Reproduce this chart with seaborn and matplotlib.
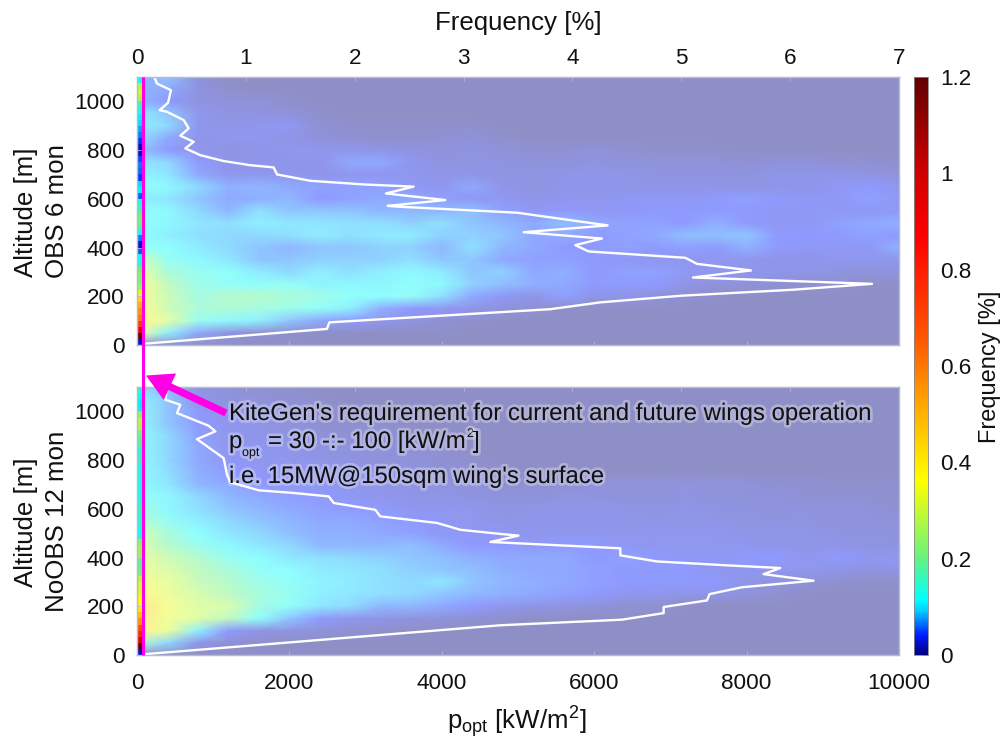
import numpy as np
import matplotlib
matplotlib.use("Agg")
import matplotlib.pyplot as plt
import matplotlib.patheffects as pe
from matplotlib.patches import FancyArrowPatch
from matplotlib.colors import LinearSegmentedColormap, Normalize
from matplotlib.cm import ScalarMappable
import seaborn as sns

sns.set_theme(style="white")
plt.rcParams['font.family'] = ['Liberation Sans', 'DejaVu Sans']
plt.rcParams['mathtext.fontset'] = 'custom'
plt.rcParams['mathtext.rm'] = 'Liberation Sans'
plt.rcParams['mathtext.it'] = 'Liberation Sans'

# ---- data -------------------------------------------------------------
# Frequency maps, in 1/1000 %, rows from 1100 m down to 0 m (50 m step),
# columns from 0 to 10000 kW/m2 (400 kW/m2 step).
power_nodes = [0, 400, 800, 1200, 1600, 2000, 2400, 2800, 3200, 3600, 4000, 4400, 4800,
               5200, 5600, 6000, 6400, 6800, 7200, 7600, 8000, 8400, 8800, 9200, 9600, 10000]
obs_map = [
 [50,70,15,0,0,0,0,0,0,0,0,0,0,0,0,0,0,0,0,0,0,0,0,0,0,0],
 [60,50,20,5,0,0,0,0,0,0,0,0,0,0,0,0,0,0,0,0,0,0,0,0,0,0],
 [60,40,20,15,15,5,0,0,0,0,0,0,0,0,0,0,0,0,0,0,0,0,0,0,0,0],
 [100,70,30,20,20,15,5,0,0,0,0,0,0,0,0,0,0,0,0,0,0,0,0,0,0,0],
 [100,80,30,25,30,35,10,5,5,5,5,5,0,0,0,0,0,0,0,0,0,0,0,0,0,0],
 [90,50,25,30,30,25,15,10,5,5,10,15,5,0,0,0,0,0,0,0,0,0,0,0,0,0],
 [70,40,30,20,25,30,30,30,25,20,15,20,15,10,10,15,10,5,5,5,0,0,0,0,0,0],
 [90,80,40,25,25,25,25,50,50,30,20,20,20,15,15,20,15,15,15,15,10,15,15,10,10,5],
 [110,90,50,30,30,30,25,30,30,30,25,25,20,20,25,25,25,20,20,20,20,25,25,25,20,15],
 [120,110,80,55,60,50,45,45,45,35,30,50,25,20,25,25,25,25,25,25,20,25,25,35,40,30],
 [100,90,70,50,55,60,40,45,50,50,45,35,35,25,30,30,35,35,35,40,45,40,35,35,45,35],
 [130,110,80,60,85,70,70,70,60,60,60,65,45,35,40,35,35,40,40,40,40,35,35,35,35,35],
 [120,110,90,85,100,90,90,85,85,75,85,70,60,50,65,50,45,45,40,55,40,35,35,45,50,55],
 [120,100,85,80,80,85,95,85,95,95,75,75,70,50,50,40,45,50,65,65,70,40,40,40,45,40],
 [130,115,95,80,70,60,70,70,75,75,60,85,60,50,40,40,45,40,45,40,55,40,35,35,35,55],
 [270,135,110,90,70,70,75,75,75,85,70,70,50,45,45,40,35,30,30,30,30,25,25,30,30,30],
 [330,170,140,120,95,80,100,85,100,110,95,70,75,50,55,40,45,45,35,30,30,25,25,20,15,20],
 [360,220,145,125,120,130,105,110,105,120,110,75,65,55,50,40,40,40,25,15,15,10,8,8,3,3],
 [370,240,160,190,190,170,150,120,115,130,85,50,35,25,45,25,25,15,8,3,0,0,0,0,0,0],
 [380,250,170,180,160,145,125,100,55,40,35,25,15,10,3,0,0,0,0,0,0,0,0,0,0,0],
 [400,300,140,110,100,70,50,40,30,20,10,5,0,0,0,0,0,0,0,0,0,0,0,0,0,0],
 [350,100,50,20,10,5,0,0,0,0,0,0,0,0,0,0,0,0,0,0,0,0,0,0,0,0],
 [30,0,0,0,0,0,0,0,0,0,0,0,0,0,0,0,0,0,0,0,0,0,0,0,0,0],
]
noobs_map = [
 [80,60,20,15,10,5,0,0,0,0,0,0,0,0,0,0,0,0,0,0,0,0,0,0,0,0],
 [110,70,25,15,15,10,5,0,0,0,0,0,0,0,0,0,0,0,0,0,0,0,0,0,0,0],
 [130,70,40,25,20,15,5,5,0,0,0,0,0,0,0,0,0,0,0,0,0,0,0,0,0,0],
 [130,70,40,30,25,15,10,5,5,0,0,0,0,0,0,0,0,0,0,0,0,0,0,0,0,0],
 [120,80,45,30,25,20,15,10,10,5,0,0,0,0,0,0,0,0,0,0,0,0,0,0,0,0],
 [130,80,50,30,30,25,20,15,15,10,5,0,0,0,0,0,0,0,0,0,0,0,0,0,0,0],
 [120,80,50,35,30,30,25,20,15,15,10,5,0,0,0,0,0,0,0,0,0,0,0,0,0,0],
 [120,85,55,40,35,30,25,25,20,15,10,10,5,0,0,0,0,0,0,0,0,0,0,0,0,0],
 [120,90,60,50,40,35,30,30,25,20,15,15,10,10,10,15,15,15,20,15,15,10,10,5,5,5],
 [130,110,80,60,50,45,40,35,30,25,25,20,15,15,20,20,15,15,20,15,15,15,10,10,10,5],
 [170,110,85,70,60,50,45,40,40,30,30,30,20,25,25,25,25,20,25,20,20,15,20,15,15,10],
 [200,130,100,80,70,60,50,50,45,40,35,30,25,25,25,25,25,25,25,25,20,20,20,15,15,15],
 [280,170,115,90,80,65,55,55,50,45,35,35,35,30,30,30,30,30,30,30,25,25,25,20,20,15],
 [290,190,140,110,90,80,60,60,60,65,50,40,40,35,40,40,35,30,30,30,30,25,25,25,20,20],
 [310,250,190,135,115,90,85,80,75,70,65,55,50,50,50,40,45,40,35,35,40,40,30,40,30,35],
 [320,280,215,170,125,115,95,90,85,75,70,65,55,50,50,45,40,40,40,30,30,30,30,25,20,25],
 [340,315,235,190,150,125,105,95,85,80,90,70,60,55,50,45,40,40,40,40,25,18,12,8,3,3],
 [400,320,265,210,165,135,100,90,85,80,70,60,55,50,45,40,30,30,25,25,15,8,3,0,0,0],
 [480,340,290,270,160,120,90,80,60,60,50,40,30,25,20,15,10,8,3,0,0,0,0,0,0,0],
 [450,330,290,210,120,70,40,30,25,20,15,10,5,0,0,0,0,0,0,0,0,0,0,0,0,0],
 [420,320,100,40,25,20,15,10,5,0,0,0,0,0,0,0,0,0,0,0,0,0,0,0,0,0],
 [200,80,30,10,5,0,0,0,0,0,0,0,0,0,0,0,0,0,0,0,0,0,0,0,0,0],
 [20,0,0,0,0,0,0,0,0,0,0,0,0,0,0,0,0,0,0,0,0,0,0,0,0,0],
]
# Lowest power bin (narrow opaque strip), 25 m rows from 1100 m down to 0 m, 1/1000 %
obs_strip = [120,280,300,270,160,140,110,100,80,70,50,25,30,55,70,65,50,100,110,60,140,160,
             200,210,190,130,70,30,60,130,140,200,230,220,250,330,430,500,560,600,720,900,1200,30]
noobs_strip = [140,120,110,110,240,280,270,220,190,180,150,150,140,140,130,130,130,135,140,150,150,145,
               140,130,140,230,260,250,190,190,210,280,310,320,340,370,400,480,560,680,780,950,1200,30]
# Frequency profiles [%] against altitude [m]
obs_freq = [.06,1.745,1.767,3.797,4.256,4.991,6.032,6.752,5.107,5.64,5.144,5.037,4.149,4.026,4.271,3.552,
            4.323,3.491,2.388,2.303,2.832,2.287,2.541,2.082,1.592,1.286,1.255,1.041,.796,.582,.444,.521,
            .398,.475,.429,.276,.208,.285,.312,.184,.159]
obs_alt = [5,66,93,147,175,202,227,251,277,306,333,358,384,410,437,463,491,543,568,571,595,622,650,659,
           674,700,729,738,755,779,807,834,859,889,923,957,964,994,1046,1073,1100]
noobs_freq = [.06,3.338,4.455,4.838,4.838,5.236,5.26,5.557,6.215,5.756,5.909,5.42,4.777,4.44,4.44,3.246,
              3.505,3.337,2.97,2.756,2.235,2.189,1.807,1.761,1.439,1.118,.857,.827,.796,.551,.72,.658,
              .367,.398,.26,.276]
noobs_alt = [3,122,145,172,197,224,250,278,305,332,357,368,384,409,438,464,490,497,514,542,569,596,624,651,
             665,676,709,740,808,886,918,941,993,1027,1048,1096]
power_ticks = [0, 2000, 4000, 6000, 8000, 10000]
alt_ticks = [0, 200, 400, 600, 800, 1000]
freq_ticks = [0, 1, 2, 3, 4, 5, 6, 7]
cbar_ticks = [0, 0.2, 0.4, 0.6, 0.8, 1, 1.2]
cbar_labels = ['0', '0.2', '0.4', '0.6', '0.8', '1', '1.2']

# ---- colours ----------------------------------------------------------
VMAX = 1.2
stops = [(0, (0, 0, .5)), (.04, (0, .1, 1)), (.09, (0, .8, 1)), (.115, (0, 1, 1)), (.2, (.4, .95, .5)),
         (.36, (1, 1, 0)), (.5, (1, .7, 0)), (.65, (1, .35, 0)), (.87, (1, 0, 0)), (1.0, (.82, 0, 0)), (1.2, (.38, 0, 0))]
full = LinearSegmentedColormap.from_list('fullj', [(v / VMAX, c) for v, c in stops], N=512)
A = 0.44
pale = LinearSegmentedColormap.from_list(
    'palej', [(v / VMAX, tuple(A * x + 1 - A for x in c)) for v, c in stops], N=512)

W, H = 1003, 740
fig = plt.figure(figsize=(W / 100, H / 100), dpi=100)
TICK = 16.2
EDGE = '#b9b9cf'


def box(x0, y0, x1, y1):
    return [x0 / W, 1 - y1 / H, (x1 - x0) / W, (y1 - y0) / H]


def panel(y0, y1, table, strip, freq, alt, top_labels, bottom_labels):
    rect = box(137, y0, 899, y1)
    base = fig.add_axes(rect)
    arr = np.array(table) / 1000
    sns.heatmap(arr, ax=base, cmap=pale, vmin=0, vmax=VMAX, cbar=False, xticklabels=False,
                yticklabels=False, shading='gouraud')
    base.set_xlim(0, arr.shape[1] - 1)
    base.set_ylim(arr.shape[0] - 1, 0)
    base.axis('off')
    sax = fig.add_axes(box(137, y0, 142.5, y1))
    sns.heatmap(np.array(strip)[:, None] / 1000, ax=sax, cmap=full, vmin=0, vmax=VMAX, cbar=False,
                xticklabels=False, yticklabels=False)
    sax.axis('off')
    ov = fig.add_axes(rect, facecolor='none')
    ov.set_xlim(0, 10000)
    ov.set_ylim(0, 1100)
    ov.set_yticks(alt_ticks)
    ov.set_xticks(power_ticks)
    ov.tick_params(axis='both', direction='in', length=3, width=.6, color=EDGE, labelsize=TICK,
                   labelcolor='#111111', bottom=True, left=True, labelbottom=bottom_labels)
    ov.tick_params(axis='x', pad=13)
    ov.tick_params(axis='y', pad=9)
    tw = ov.twiny()
    tw.patch.set_visible(False)
    sns.lineplot(x=freq, y=alt, sort=False, estimator=None, color='white', lw=1.7, ax=tw)
    tw.set_xlim(0, 7)
    tw.set_ylim(0, 1100)
    tw.set_xticks(freq_ticks)
    tw.tick_params(axis='x', direction='in', length=3, width=.6, color=EDGE, labelsize=TICK, pad=6,
                   labelcolor='#111111', top=True, labeltop=top_labels)
    for a in (ov, tw):
        a.set_xlabel('')
        a.set_ylabel('')
        a.grid(False)
        for s in a.spines.values():
            s.set_color(EDGE)
            s.set_linewidth(.9)
    if not top_labels:
        tw.set_xticklabels([])
    return tw


top = panel(77, 345, obs_map, obs_strip, obs_freq, obs_alt, True, False)
bot = panel(387, 655, noobs_map, noobs_strip, noobs_freq, noobs_alt, False, True)

# colour bar
cax = fig.add_axes(box(914, 77, 928, 655))
cb = fig.colorbar(ScalarMappable(Normalize(0, VMAX), full), cax=cax)
cb.set_ticks(cbar_ticks)
cb.set_ticklabels(cbar_labels)
cax.tick_params(axis='y', direction='in', length=4, width=.6, color='#777777', labelsize=TICK, pad=9,
                labelcolor='#111111', right=True)
cb.outline.set_edgecolor('#888888')
cb.outline.set_linewidth(.6)


def ftext(x, y, s, **kw):
    return fig.text(x / W, 1 - y / H, s, color=kw.pop('color', '#111111'), **kw)


LAB = 18.6
ftext(518, 23, 'Frequency [%]', ha='center', va='center', fontsize=LAB)
ftext(26, 212, 'Altitude [m]', ha='center', va='center', rotation=90, fontsize=LAB)
ftext(57, 211, 'OBS 6 mon', ha='center', va='center', rotation=90, fontsize=LAB)
ftext(26, 522, 'Altitude [m]', ha='center', va='center', rotation=90, fontsize=LAB)
ftext(57, 521, 'NoOBS 12 mon', ha='center', va='center', rotation=90, fontsize=LAB)
ftext(990, 367, 'Frequency [%]', ha='center', va='center', rotation=90, fontsize=17)
ftext(517, 722, r'$\mathrm{p_{opt}}$ [kW/m$\mathrm{^2}$]', ha='center', va='center', fontsize=LAB)

# magenta requirement line and arrow
line_ax = fig.add_axes(box(137, 77, 899, 655), facecolor='none')
line_ax.set_xlim(0, 10000)
line_ax.set_ylim(0, 1)
line_ax.axis('off')
line_ax.plot([75, 75], [0, 1], color='#ff00e6', lw=2.2, clip_on=False, solid_capstyle='butt')
fig.add_artist(FancyArrowPatch(
    (226 / W, 1 - 413 / H), (146 / W, 1 - 375.5 / H), transform=fig.transFigure,
    arrowstyle='simple,head_width=1.05,head_length=0.95,tail_width=0.26', mutation_scale=20,
    color='#ff00e6', lw=0, shrinkA=0, shrinkB=0))

# annotation with glow
glow = [pe.withStroke(linewidth=4, foreground='white', alpha=.3)]
AN = 17.25
kw = dict(fontsize=AN, va='baseline', ha='left', path_effects=glow)
ftext(229, 420, "KiteGen's requirement for current and future wings operation", **kw)
ftext(229, 448, 'p', **kw)
ftext(242, 456, 'opt', fontsize=9, va='baseline', ha='left', path_effects=glow)
ftext(268, 448, '= 30 -:- 100 [kW/m', **kw)
ftext(467, 437, '2', fontsize=9, va='baseline', ha='left', path_effects=glow)
ftext(473, 448, ']', **kw)
ftext(229, 483, "i.e. 15MW@150sqm wing's surface", **kw)

fig.savefig('out.png', dpi=100)
